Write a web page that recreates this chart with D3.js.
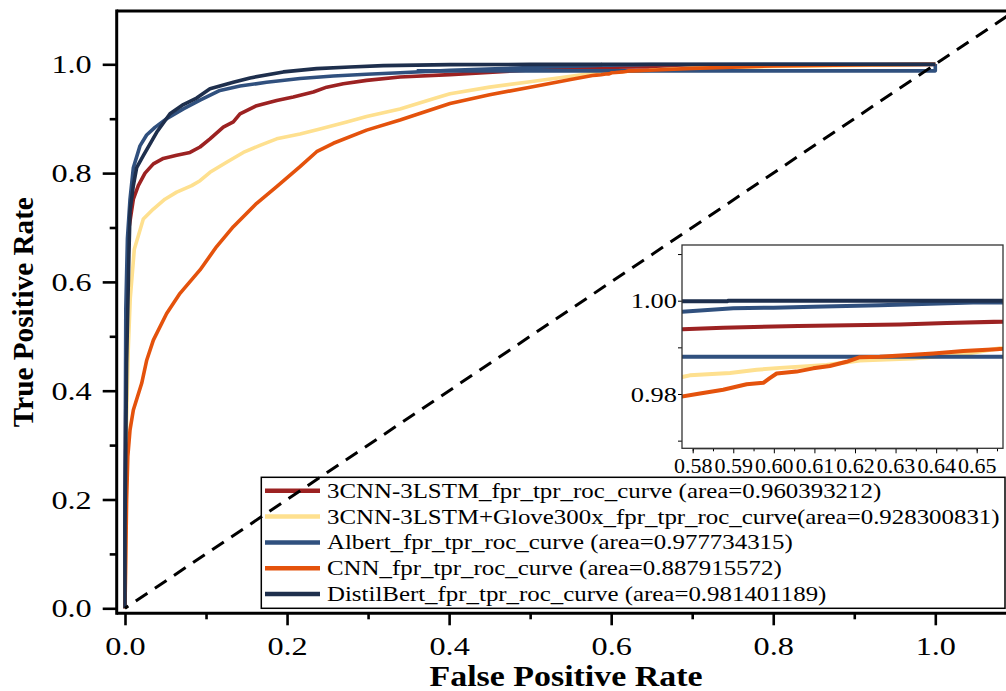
<!DOCTYPE html>
<html>
<head>
<meta charset="utf-8">
<script src="https://cdn.jsdelivr.net/npm/d3@7"></script>
<style>
  body { margin: 0; background: #fff; }
  svg { display: block; }
  text { font-family: "Liberation Serif", "Times New Roman", serif; fill: #000; }
</style>
</head>
<body>
<div id="chart"></div>
<script>
// legend / series
const seriesNames = [
  "3CNN-3LSTM_fpr_tpr_roc_curve (area=0.960393212)",
  "3CNN-3LSTM+Glove300x_fpr_tpr_roc_curve(area=0.928300831)",
  "Albert_fpr_tpr_roc_curve (area=0.977734315)",
  "CNN_fpr_tpr_roc_curve (area=0.887915572)",
  "DistilBert_fpr_tpr_roc_curve (area=0.981401189)"
];
const seriesColors = ["#9c2222", "#fee08f", "#30507e", "#e4520c", "#1e2f4d"];

// curve points
const lstmFpr = [0, 0, 0.002, 0.005, 0.0103, 0.0164, 0.0247, 0.035, 0.0473, 0.0638, 0.0802, 0.0926, 0.1049, 0.1213, 0.1337, 0.1419, 0.1625, 0.1872, 0.2077, 0.2324, 0.2489, 0.2694, 0.2982, 0.3394, 0.4011, 0.5, 0.5775, 0.5875, 0.606, 0.6311, 0.6426, 0.7, 0.8, 1.0, 1.0];
const lstmTpr = [0, 0.2, 0.55, 0.7, 0.752, 0.777, 0.80, 0.817, 0.827, 0.833, 0.838, 0.848, 0.863, 0.8845, 0.894, 0.909, 0.924, 0.9336, 0.94, 0.949, 0.958, 0.9644, 0.9705, 0.9767, 0.981, 0.9895, 0.9939, 0.9942, 0.9946, 0.9949, 0.9952, 0.9965, 0.998, 0.9995, 1.0];

const gloveFpr = [0, 0.001, 0.002, 0.004, 0.0065, 0.0115, 0.0226, 0.035, 0.0493, 0.0638, 0.0823, 0.0926, 0.1049, 0.1254, 0.146, 0.1666, 0.1872, 0.216, 0.2406, 0.2736, 0.2982, 0.3394, 0.3805, 0.4011, 0.45, 0.5, 0.55, 0.5777, 0.5793, 0.5892, 0.5958, 0.6015, 0.613, 0.6212, 0.6343, 0.6467, 0.6557, 0.7, 0.8, 0.9, 1.0];
const gloveTpr = [0, 0.15, 0.35, 0.475, 0.57, 0.66, 0.7155, 0.734, 0.752, 0.765, 0.777, 0.786, 0.8015, 0.82, 0.838, 0.851, 0.863, 0.872, 0.881, 0.894, 0.904, 0.918, 0.9367, 0.946, 0.958, 0.968, 0.978, 0.9837, 0.984, 0.9845, 0.9852, 0.9856, 0.9862, 0.9872, 0.9876, 0.9885, 0.9898, 0.993, 0.996, 0.998, 1.0];

const albertFpr = [0, 0, 0.001, 0.003, 0.0062, 0.0103, 0.0185, 0.0267, 0.037, 0.0514, 0.072, 0.0926, 0.1172, 0.1419, 0.1748, 0.216, 0.2571, 0.2982, 0.3394, 0.4011, 0.5, 0.5769, 0.59, 0.5999, 0.6097, 0.6261, 0.6491, 0.7, 0.8, 1.0, 1.0];
const albertTpr = [0, 0.2, 0.55, 0.68, 0.752, 0.81, 0.85, 0.87, 0.884, 0.9, 0.918, 0.934, 0.952, 0.96, 0.967, 0.974, 0.9785, 0.9816, 0.9846, 0.9889, 0.994, 0.9976, 0.9984, 0.9985, 0.9987, 0.999, 0.9996, 0.9997, 0.9998, 0.9998, 1.0];
// second flat blue trace near the top
const albertFlatFpr = [0.36, 1.0, 1.0];
const albertFlatTpr = [0.988, 0.988, 1.0];

const cnnFpr = [0, 0.001, 0.002, 0.0035, 0.0062, 0.0103, 0.0206, 0.0268, 0.035, 0.0514, 0.0679, 0.0926, 0.1131, 0.1337, 0.1625, 0.1872, 0.216, 0.2365, 0.2571, 0.2982, 0.3394, 0.4011, 0.45, 0.5, 0.55, 0.5769, 0.5818, 0.5875, 0.5933, 0.5974, 0.599, 0.6007, 0.6056, 0.6097, 0.6138, 0.6179, 0.6212, 0.6261, 0.6343, 0.6393, 0.6467, 0.6549, 0.7, 0.8, 0.9, 1.0];
const cnnTpr = [0, 0.1, 0.2, 0.28, 0.328, 0.3645, 0.4136, 0.456, 0.493, 0.542, 0.579, 0.622, 0.665, 0.7015, 0.7445, 0.775, 0.8118, 0.8393, 0.8548, 0.879, 0.8976, 0.928, 0.944, 0.958, 0.972, 0.9794, 0.9801, 0.9809, 0.9821, 0.9824, 0.9834, 0.9844, 0.9848, 0.9855, 0.986, 0.9869, 0.9879, 0.988, 0.9884, 0.9887, 0.9892, 0.9896, 0.9925, 0.997, 0.999, 1.0];

const distilFpr = [0, 0, 0.002, 0.005, 0.0062, 0.0103, 0.0144, 0.0226, 0.0391, 0.0555, 0.072, 0.0884, 0.1049, 0.1337, 0.1543, 0.1954, 0.2365, 0.2777, 0.3188, 0.4011, 0.5, 0.5886, 0.5887, 1.0];
const distilTpr = [0, 0.15, 0.45, 0.66, 0.73, 0.777, 0.81, 0.832, 0.875, 0.909, 0.926, 0.938, 0.955, 0.967, 0.975, 0.986, 0.992, 0.995, 0.9975, 0.9994, 0.9998, 0.9999, 1.0, 1.0];

// chance line
const chanceFpr = [0, 1.09];
const chanceTpr = [0, 1.09];

// ticks
const xMajor = [0, 0.2, 0.4, 0.6, 0.8, 1.0];
const xMinor = [0.1, 0.3, 0.5, 0.7, 0.9];
const yMajor = [0, 0.2, 0.4, 0.6, 0.8, 1.0];
const yMinor = [0.1, 0.3, 0.5, 0.7, 0.9];
const insetXMajor = [0.58, 0.59, 0.60, 0.61, 0.62, 0.63, 0.64, 0.65];
const insetXMinor = [0.585, 0.595, 0.605, 0.615, 0.625, 0.635, 0.645, 0.655];
const insetYTicks = [0.97, 0.98, 0.99, 1.00, 1.01];
const insetYLabels = [0.98, 1.00];

const zip = (a, b) => a.map((v, i) => [v, b[i]]);
const curves = [
  {name: seriesNames[0], color: seriesColors[0], pts: zip(lstmFpr, lstmTpr)},
  {name: seriesNames[1], color: seriesColors[1], pts: zip(gloveFpr, gloveTpr)},
  {name: seriesNames[2], color: seriesColors[2], pts: zip(albertFlatFpr, albertFlatTpr)},
  {name: seriesNames[2], color: seriesColors[2], pts: zip(albertFpr, albertTpr)},
  {name: seriesNames[3], color: seriesColors[3], pts: zip(cnnFpr, cnnTpr)},
  {name: seriesNames[4], color: seriesColors[4], pts: zip(distilFpr, distilTpr)}
];

const W = 1006, H = 691;
const svg = d3.select("#chart").append("svg").attr("width", W).attr("height", H);

// main plot frame (axes drawn offset from the data origin)
const frame = {l: 116.7, r: 1006, t: 11, b: 613.3};
const x = d3.scaleLinear().domain([0, 1]).range([125, 935.3]);
const y = d3.scaleLinear().domain([0, 1]).range([608.3, 64.3]);

//stretch text horizontally to match the wide serif of the original
function stretch(sel, k) {
  sel.each(function() {
    const w = this.getComputedTextLength();
    d3.select(this).attr("textLength", w * k).attr("lengthAdjust", "spacingAndGlyphs");
  });
}

svg.append("defs").append("clipPath").attr("id", "mainClip")
  .append("rect").attr("x", frame.l).attr("y", frame.t)
  .attr("width", frame.r - frame.l).attr("height", frame.b - frame.t);

const line = d3.line().x(d => x(d[0])).y(d => y(d[1]));

const plot = svg.append("g").attr("clip-path", "url(#mainClip)");
plot.selectAll(".curve").data(curves).enter().append("path")
  .attr("class", "curve")
  .attr("d", d => line(d.pts))
  .attr("fill", "none")
  .attr("stroke", d => d.color)
  .attr("stroke-width", 3.6)
  .attr("stroke-linejoin", "round");

// axes
const xAxis = svg.append("g").attr("transform", "translate(0," + frame.b + ")")
  .call(d3.axisBottom(x).tickValues(xMajor).tickSize(12).tickFormat(d3.format(".1f")));
svg.append("g").attr("transform", "translate(0," + frame.b + ")")
  .call(d3.axisBottom(x).tickValues(xMinor).tickSize(6).tickFormat(""));
const yAxis = svg.append("g").attr("transform", "translate(" + frame.l + ",0)")
  .call(d3.axisLeft(y).tickValues(yMajor).tickSize(14).tickFormat(d3.format(".1f")));
svg.append("g").attr("transform", "translate(" + frame.l + ",0)")
  .call(d3.axisLeft(y).tickValues(yMinor).tickSize(7).tickFormat(""));

svg.selectAll(".domain").remove();
svg.selectAll(".tick line").attr("stroke", "#000").attr("stroke-width", 2.6);

xAxis.selectAll("text").attr("y", 42).attr("dy", 0)
  .style("font-size", "26px").style("font-family", "Liberation Serif");
yAxis.selectAll("text").attr("x", -25).attr("dy", "0.33em")
  .style("font-size", "26px").style("font-family", "Liberation Serif");
stretch(xAxis.selectAll("text"), 1.24);
stretch(yAxis.selectAll("text"), 1.24);

// axis lines
const axisLines = svg.append("g").attr("stroke", "#000").attr("stroke-width", 3);
axisLines.append("line").attr("x1", frame.l).attr("x2", frame.l).attr("y1", frame.t - 1.5).attr("y2", frame.b + 1.5);
axisLines.append("line").attr("x1", frame.l).attr("x2", frame.r).attr("y1", frame.b).attr("y2", frame.b);
axisLines.append("line").attr("x1", frame.l).attr("x2", frame.r).attr("y1", frame.t).attr("y2", frame.t);

// axis titles
svg.append("text")
  .attr("transform", "translate(33," + ((frame.t + frame.b) / 2) + ") rotate(-90)")
  .attr("text-anchor", "middle")
  .style("font-size", "29px").style("font-weight", "bold")
  .attr("textLength", 230).attr("lengthAdjust", "spacingAndGlyphs")
  .text("True Positive Rate");
svg.append("text")
  .attr("x", 566).attr("y", 686)
  .attr("text-anchor", "middle")
  .style("font-size", "29px").style("font-weight", "bold")
  .attr("textLength", 273).attr("lengthAdjust", "spacingAndGlyphs")
  .text("False Positive Rate");

// legend
const leg = {x: 261.3, y: 477.3, w: 743.7, h: 131, row0: 490.8, rowH: 25.8};
const legendRows = curves.filter((d, i) => i !== 2);
const legend = svg.append("g");
legend.append("rect").attr("x", leg.x).attr("y", leg.y).attr("width", leg.w).attr("height", leg.h)
  .attr("fill", "none").attr("stroke", "#000").attr("stroke-width", 1.5);
const rows = legend.selectAll(".row").data(legendRows).enter().append("g")
  .attr("transform", (d, i) => "translate(0," + (leg.row0 + i * leg.rowH) + ")");
rows.append("line").attr("x1", 265).attr("x2", 320).attr("y1", 0).attr("y2", 0)
  .attr("stroke", d => d.color).attr("stroke-width", 4.5);
const legTexts = rows.append("text").attr("x", 327).attr("dy", "0.33em")
  .style("font-size", "21px").text(d => d.name);
const lastW = legTexts.nodes()[4].getComputedTextLength();
stretch(legTexts, 499.4 / lastW);

// chance diagonal
svg.append("path").attr("clip-path", "url(#mainClip)")
  .attr("d", line(zip(chanceFpr, chanceTpr)))
  .attr("fill", "none").attr("stroke", "#000").attr("stroke-width", 3)
  .attr("stroke-dasharray", "14,9").attr("stroke-dashoffset", 10);

// inset zoom
const ins = {l: 682, r: 1003, t: 245, b: 448.3};
const ix = d3.scaleLinear().domain([0.58, 0.65]).range([692.7, 976.7]);
const iy = d3.scaleLinear().domain([0.98, 1.0]).range([394, 300.7]);
const iline = d3.line().x(d => ix(d[0])).y(d => iy(d[1]));

svg.select("defs").append("clipPath").attr("id", "insetClip")
  .append("rect").attr("x", ins.l).attr("y", ins.t).attr("width", ins.r - ins.l).attr("height", ins.b - ins.t);

svg.append("rect").attr("x", ins.l).attr("y", ins.t).attr("width", ins.r - ins.l).attr("height", ins.b - ins.t)
  .attr("fill", "#fff");
svg.append("g").attr("clip-path", "url(#insetClip)")
  .selectAll("path").data(curves).enter().append("path")
  .attr("d", d => iline(d.pts))
  .attr("fill", "none")
  .attr("stroke", d => d.color)
  .attr("stroke-width", 4)
  .attr("stroke-linejoin", "round");

const ixAxis = svg.append("g").attr("transform", "translate(0," + ins.b + ")")
  .call(d3.axisBottom(ix).tickValues(insetXMajor).tickSize(5).tickFormat(d3.format(".2f")));
svg.append("g").attr("transform", "translate(0," + ins.b + ")")
  .call(d3.axisBottom(ix).tickValues(insetXMinor).tickSize(3).tickFormat(""));
const iyAxis = svg.append("g").attr("transform", "translate(" + ins.l + ",0)")
  .call(d3.axisLeft(iy).tickValues(insetYTicks).tickSize(4)
    .tickFormat(d => insetYLabels.some(v => Math.abs(v - d) < 1e-9) ? d3.format(".2f")(d) : ""));
[ixAxis, iyAxis].forEach(a => a.select(".domain").remove());
svg.selectAll(".tick line").attr("stroke", "#000");
ixAxis.selectAll("text").attr("y", 25).attr("dy", 0).style("font-size", "22px").style("font-family", "Liberation Serif");
iyAxis.selectAll("text").attr("x", -5).attr("dy", "0.33em").style("font-size", "22px").style("font-family", "Liberation Serif");
stretch(iyAxis.selectAll("text"), 1.2);

svg.append("rect").attr("x", ins.l).attr("y", ins.t).attr("width", ins.r - ins.l).attr("height", ins.b - ins.t)
  .attr("fill", "none").attr("stroke", "#333").attr("stroke-width", 1.3);
</script>
</body>
</html>
